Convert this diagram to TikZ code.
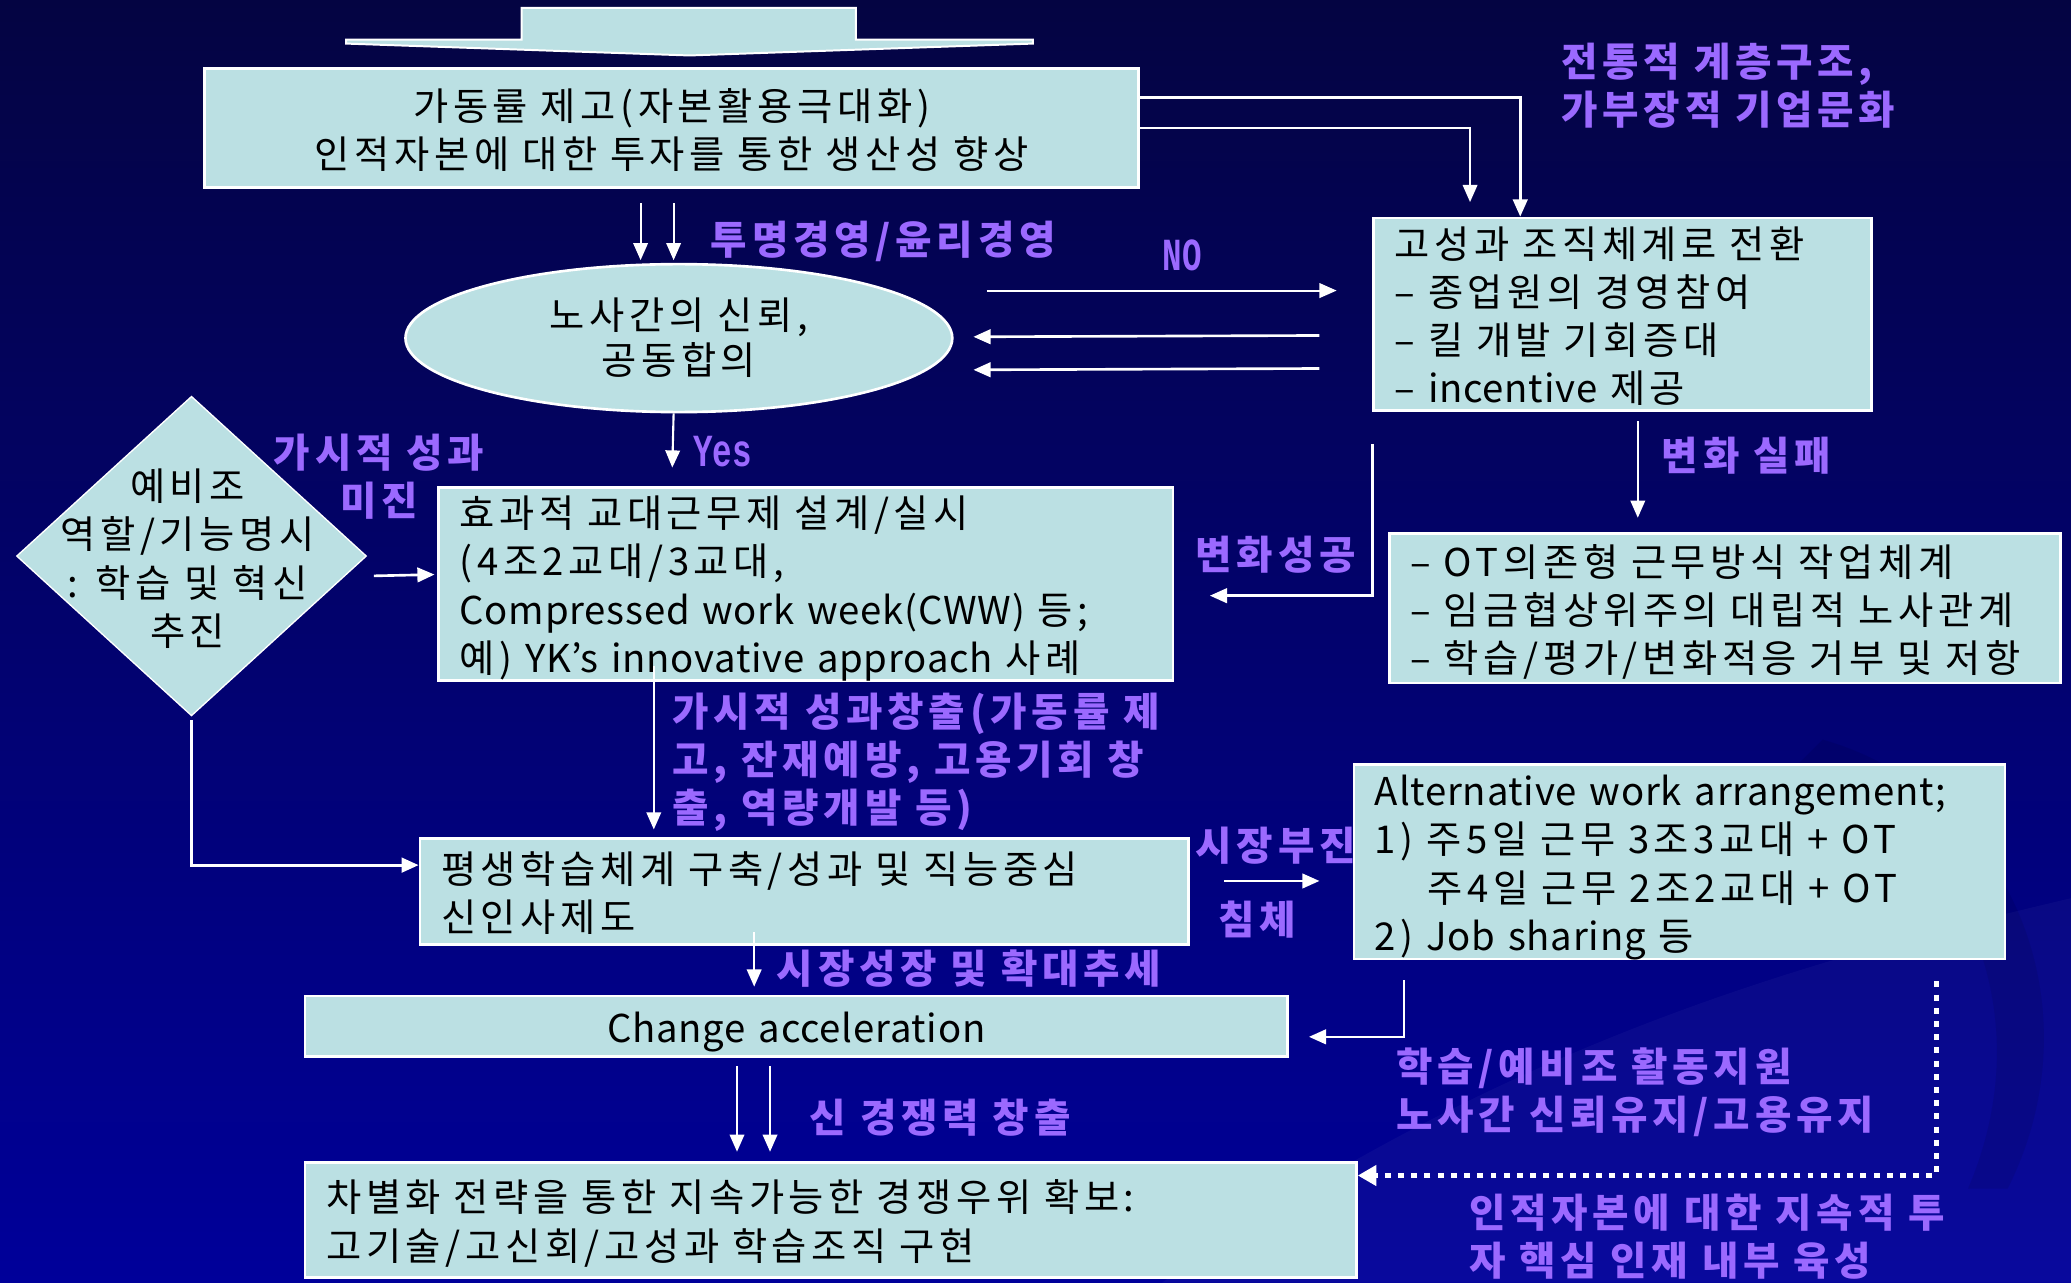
\documentclass[tikz,border=0pt]{standalone}
\usepackage{fontspec}
\setmainfont{Noto Sans CJK KR}[LetterSpace=12]
\newfontfamily\monofam{Liberation Mono}
\usetikzlibrary{shapes.geometric,arrows.meta,calc}
\definecolor{bgtop}{RGB}{4,4,66}
\definecolor{bgmid}{RGB}{0,0,138}
\definecolor{bgbot}{RGB}{0,0,154}
\definecolor{boxfill}{RGB}{187,224,227}
\definecolor{lab}{RGB}{155,105,255}
\newcommand{\lat}[1]{{\addfontfeature{LetterSpace=2}#1}}
\newcommand{\boxlines}[1]{\raisebox{-5pt}[\height][\depth]{\begin{tabular}{@{}l@{}}#1\end{tabular}}}
\newcommand{\boxlinesc}[1]{\raisebox{-5pt}[\height][\depth]{\begin{tabular}{@{}c@{}}#1\end{tabular}}}
\begin{document}
\begin{tikzpicture}[x=1pt,y=-1pt,
  box/.style={draw=white,line width=2pt,fill=boxfill,rectangle,inner xsep=16pt,inner ysep=0pt,text=black,font=\fontsize{29}{36.5}\selectfont,align=left},
  arr/.style={draw=white,line width=1.6pt,-{Triangle[length=13pt,width=11pt]}},
  dotarr/.style={draw=white,line width=4pt,dash pattern=on 4.5pt off 5.5pt,-{Triangle[length=14pt,width=15pt]}},
  lbl/.style={text=lab,font=\fontsize{30}{36.5}\selectfont\bfseries,inner sep=0pt,anchor=west,align=left},
  yn/.style={text=lab,font=\monofam\bfseries\fontsize{29}{30}\selectfont,inner sep=0pt}]
\useasboundingbox (0,0) rectangle (1568,971);
\shade[top color=bgtop,middle color=bgmid,bottom color=bgbot] (0,0) rectangle (1568,971);
\fill[white,opacity=0.035] (880,971) .. controls (1150,780) and (1400,720) .. (1568,680) -- (1568,971) -- cycle;
\fill[black,opacity=0.08] (1380,560) .. controls (1520,600) and (1590,760) .. (1520,900) -- (1490,900) .. controls (1550,760) and (1480,620) .. (1360,580) -- cycle;

% top block arrow
\filldraw[fill=boxfill,draw=white,line width=1.5pt] (395,6) -- (648,6) -- (648,30) -- (782,30) -- (782,33) -- (522,42) -- (262,33) -- (262,30) -- (395,30) -- cycle;

% labels
\node[lbl] (ltm) at (538,183) {투명경영/윤리경영};
\node[lbl] (lct) at (1182,65) {전통적 계층구조,\\가부장적 기업문화};
\node[yn] (lno) at (895,193) {\scalebox{0.85}[1.2]{NO}};
\node[yn] (lyes) at (547,342) {\scalebox{0.85}[1.2]{Yes}};
\node[lbl] (lfail) at (1258,345) {변화 실패};
\node[lbl] (lsucc) at (905,420) {변화성공};
\node[lbl,anchor=center,align=center] (lvis) at (287,361) {가시적 성과\\미진};
\node[lbl] (lout) at (509,577) {가시적 성과창출(가동률 제\\고, 잔재예방, 고용기회 창\\출, 역량개발 등)};
\node[lbl] (lmkt) at (588,733) {시장성장 및 확대추세};
\node[lbl] (lsl1) at (905,640) {시장부진};
\node[lbl] (lsl2) at (922,696) {침체};
\node[lbl] (lsup) at (1057,827) {학습/예비조 활동지원\\노사간 신뢰유지/고용유지};
\node[lbl] (lnew) at (613,846) {신 경쟁력 창출};
\node[lbl] (lhc) at (1112,936) {인적자본에 대한 지속적 투\\자 핵심 인재 내부 육성};

% boxes
\node[box,minimum width=707pt,minimum height=90pt,text width=675pt,align=center] (b1) at (508.5,97) {\boxlinesc{가동률 제고(자본활용극대화)\\인적자본에 대한 투자를 통한 생산성 향상}};
\node[draw=white,line width=2pt,fill=boxfill,ellipse,minimum width=414pt,minimum height=112pt,inner sep=0pt,align=center,font=\fontsize{29}{34}\selectfont] (ell) at (514,256) {노사간의 신뢰,\\공동합의};
\node[box,minimum width=377pt,minimum height=146pt,text width=345pt] (b3) at (1228.5,238) {\boxlines{고성과 조직체계로 전환\\– 종업원의 경영참여\\– 킬 개발 기회증대\\– \lat{incentive} 제공}};
\node[box,minimum width=508pt,minimum height=113pt,text width=476pt] (b4) at (1306,460.5) {\boxlines{– OT의존형 근무방식 작업체계\\– 임금협상위주의 대립적 노사관계\\– 학습/평가/변화적응 거부 및 저항}};
\node[draw=white,line width=1pt,fill=boxfill,diamond,minimum width=265pt,minimum height=242pt,inner sep=0pt] (dia) at (145,421) {};
\node[inner sep=0pt,align=center,font=\fontsize{29}{36.7}\selectfont] (diat) at (142,423) {예비조\\역할/기능명시\\: 학습 및 혁신\\추진};
\node[box,minimum width=556pt,minimum height=146pt,text width=524pt] (b5) at (610,442) {\boxlines{효과적 교대근무제 설계/실시\\(4조2교대/3교대,\\\lat{Compressed work week(CWW)} 등;\\예) \lat{YK’s innovative approach} 사례}};
\node[box,minimum width=582pt,minimum height=80pt,text width=550pt] (b6) at (609,675) {\boxlines{평생학습체계 구축/성과 및 직능중심\\신인사제도}};
\node[box,minimum width=744pt,minimum height=46pt,text width=712pt,align=center] (b7) at (603,777) {\boxlinesc{\lat{Change acceleration}}};
\node[box,minimum width=493pt,minimum height=147pt,text width=461pt] (b8) at (1271.5,652.5) {\boxlines{\lat{Alternative work arrangement;}\\1) 주5일 근무 3조3교대 + OT\\\hspace*{40pt}주4일 근무 2조2교대 + OT\\2) \lat{Job sharing} 등}};
\node[box,minimum width=796pt,minimum height=87pt,text width=764pt] (b9) at (629,923.5) {\boxlines{차별화 전략을 통한 지속가능한 경쟁우위 확보:\\고기술/고신회/고성과 학습조직 구현}};

% connectors
\draw[arr] ($(b1.south)+(-23.5,11)$) -- ($(ell.north)+(-29,-2)$);
\draw[arr] ($(b1.south)+(1.5,11)$) -- ($(ell.north)+(-4,-2)$);
\draw[arr,line width=2pt] ($(b1.north east)+(0,23)$) -| ($(b3.north west)+(112,0)$);
\draw[arr] ($(b1.north east)+(0,46)$) -| ($(b3.north west)+(74,-11)$);
\draw[arr] ($(b3.north west)+(-292,56)$) -- ($(b3.north west)+(-27,56)$);
\draw[arr,line width=2pt] ($(b3.north west)+(-40,90)$) -- ($(ell.east)+(15,-1)$);
\draw[arr,line width=2pt] ($(b3.north west)+(-40,115)$) -- ($(ell.east)+(15,24)$);
\draw[arr] ($(b3.south west)+(201,7)$) -- ($(b4.north west)+(189,-11)$);
\draw[arr,line width=2pt] ($(b3.south west)+(0,24)$) |- ($(b5.north east)+(27,83)$);
\draw[arr] ($(ell.south)+(-4,0)$) -- ($(b5.north west)+(178,-14)$);
\draw[arr,line width=2pt] ($(dia.east)+(5,15)$) -- ($(b5.north west)+(-2,67)$);
\draw[arr] ($(b5.south west)+(164,-12)$) -- ($(b6.north west)+(178,-6)$);
\draw[arr,line width=2.4pt] ($(dia.south)+(0,3)$) |- ($(b6.west)+(0,-20)$);
\draw[arr] ($(b6.south west)+(254,-10)$) -- ($(b7.north west)+(341,-6)$);
\draw[arr,line width=2pt] ($(b6.east)+(26,-8)$) -- ($(b8.west)+(-25,14.5)$);
\draw[arr,line width=2pt] ($(b8.south west)+(39,15)$) |- ($(b7.east)+(15,8)$);
\draw[dotarr] ($(b8.south west)+(442,16)$) |- ($(b9.east)+(0,-33.5)$);
\draw[arr] ($(b7.south west)+(328,6)$) -- ($(b9.north west)+(328,-7)$);
\draw[arr] ($(b7.south west)+(353,6)$) -- ($(b9.north west)+(353,-7)$);
\end{tikzpicture}
\end{document}
